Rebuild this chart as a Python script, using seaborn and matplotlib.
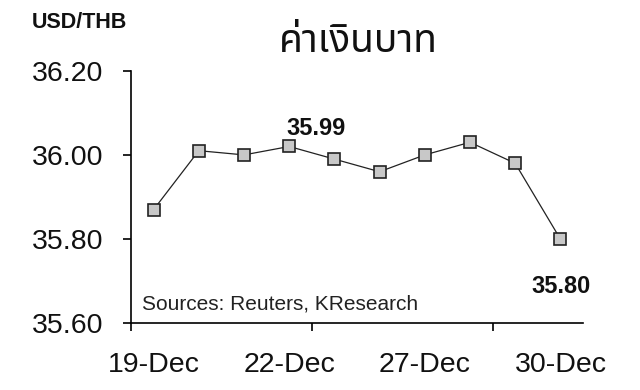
import numpy as np
import pandas as pd
import matplotlib
matplotlib.use("Agg")
import matplotlib.pyplot as plt
from matplotlib import font_manager
from matplotlib.ft2font import FT2Font
from matplotlib.ticker import FixedLocator, FormatStrFormatter
import seaborn as sns

# ---- data ----
dates = ["19-Dec", "20-Dec", "21-Dec", "22-Dec", "23-Dec",
         "26-Dec", "27-Dec", "28-Dec", "29-Dec", "30-Dec"]
rates = [35.87, 36.01, 36.00, 36.02, 35.99, 35.96, 36.00, 36.03, 35.98, 35.80]
shown_labels = ["19-Dec", "22-Dec", "27-Dec", "30-Dec"]
y_ticks = [35.60, 35.80, 36.00, 36.20]
title_text = "ค่าเงินบาท"
unit_text = "USD/THB"
source_text = "Sources: Reuters, KResearch"
callouts = [(3, "35.99"), (9, "35.80")]

sns.set_theme(style="white")
plt.rcParams["font.family"] = ["Liberation Sans", "DejaVu Sans"]


def find_thai_font():
    preferred = ["Noto Sans Thai", "Noto Sans Thai Looped", "Loma", "Garuda",
                 "Tahoma", "Norasi", "Kinnari", "Sawasdee", "Umpush", "Waree",
                 "Laksaman", "Purisa", "TlwgTypo"]
    found = {}
    for f in font_manager.fontManager.ttflist:
        try:
            cmap = FT2Font(f.fname).get_charmap()
        except Exception:
            continue
        if 0x0E04 in cmap and 0x0E32 in cmap:
            found.setdefault(f.name, f)
    for p in preferred:
        if p in found:
            return p
    if found:
        return sorted(found)[0]
    return None


thai_font = find_thai_font()

df = pd.DataFrame({"pos": np.arange(len(dates)), "date": dates, "rate": rates})

fig = plt.figure(figsize=(6.4, 3.9), dpi=100)
ax = fig.add_axes([131 / 640, 1 - 323.3 / 390, (583 - 131) / 640, (323.3 - 70.7) / 390])

sns.lineplot(data=df, x="pos", y="rate", ax=ax, color="#222222", linewidth=0.9,
             marker="s", markersize=9, markerfacecolor="#C8C8C8",
             markeredgecolor="#222222", markeredgewidth=1.2)

ax.set_xlim(-0.5, len(dates) - 0.5)
ax.set_ylim(y_ticks[0], y_ticks[-1])
ax.set_xlabel("")
ax.set_ylabel("")

# x axis: labels every 3 categories, tick marks every 4 category boundaries
label_pos = [dates.index(d) for d in shown_labels]
ax.xaxis.set_major_locator(FixedLocator(label_pos))
ax.set_xticklabels(shown_labels)
ax.xaxis.set_minor_locator(FixedLocator([-0.5, 3.5, 7.5]))
ax.tick_params(axis="x", which="major", length=0, pad=20.5, labelsize=20.5,
               labelcolor="#111111")
ax.tick_params(axis="x", which="minor", length=5.8, width=1.2, color="black",
               direction="out", bottom=True)

ax.yaxis.set_major_locator(FixedLocator(y_ticks))
ax.yaxis.set_major_formatter(FormatStrFormatter("%.2f"))
ax.tick_params(axis="y", which="major", length=5.8, width=1.2, color="black",
               direction="out", left=True, pad=14, labelsize=20.5,
               labelcolor="#111111")

for side in ["top", "right"]:
    ax.spines[side].set_visible(False)
for side in ["left", "bottom"]:
    ax.spines[side].set_color("black")
    ax.spines[side].set_linewidth(1.2)
ax.grid(False)

# callouts
ax.annotate(callouts[0][1], (callouts[0][0], rates[callouts[0][0]]),
            xytext=(19.5, 8), textcoords="offset points", ha="center",
            va="baseline", fontsize=17, fontweight="bold", color="#111111")
ax.annotate(callouts[1][1], (callouts[1][0], rates[callouts[1][0]]),
            xytext=(0.5, -26), textcoords="offset points", ha="center",
            va="top", fontsize=17, fontweight="bold", color="#111111")

ax.text(0.024, 0.053, source_text, transform=ax.transAxes, fontsize=15,
        ha="left", va="baseline", color="#222222")

fig.text(31.7 / 640, 1 - 28.3 / 390, unit_text, fontsize=15.5, fontweight="bold",
         ha="left", va="baseline", color="#111111")

title_family = [thai_font, "DejaVu Sans"] if thai_font else ["DejaVu Sans"]
fig.text(358 / 640, 1 - 52 / 390, title_text, fontsize=28, ha="center",
         va="baseline", family=title_family, color="#111111")

fig.savefig("out.png", dpi=100, facecolor="white")
